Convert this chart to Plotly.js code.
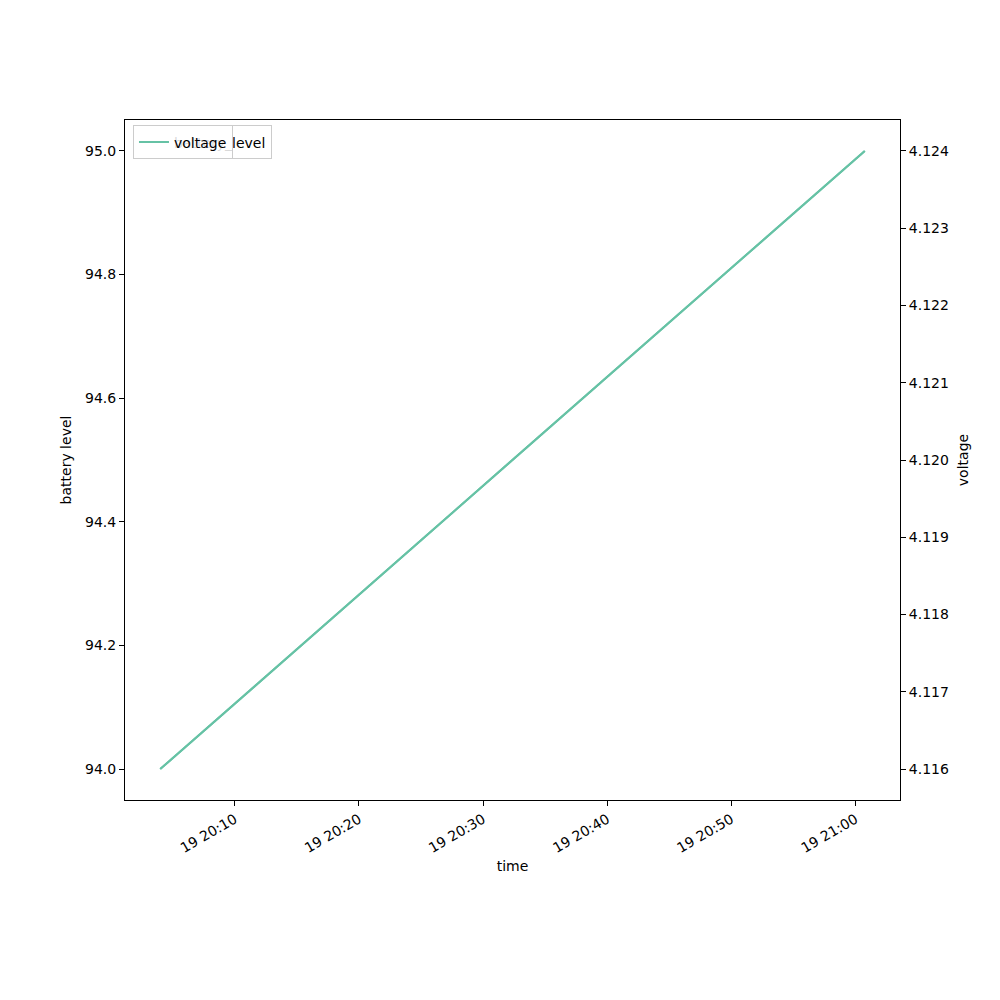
<!DOCTYPE html>
<html>
<head>
<meta charset="utf-8">
<script src="https://cdn.plot.ly/plotly-3.0.1.min.js"></script>
<style>html,body{margin:0;padding:0;background:#fff;}</style>
</head>
<body>
<div id="chart" style="width:1000px;height:1000px;"></div>
<script>
const times = ['2023-03-19 20:04:00', '2023-03-19 21:00:45'];
const batteryLevel = [94, 95];
const voltage = [4.116, 4.124];
const batteryTicks = [94.0, 94.2, 94.4, 94.6, 94.8, 95.0];
const voltageTicks = [4.116, 4.117, 4.118, 4.119, 4.120, 4.121, 4.122, 4.123, 4.124];
const timeTicks = ['2023-03-19 20:10', '2023-03-19 20:20', '2023-03-19 20:30', '2023-03-19 20:40', '2023-03-19 20:50', '2023-03-19 21:00'];
const timeTickLabels = ['19 20:10', '19 20:20', '19 20:30', '19 20:40', '19 20:50', '19 21:00'];

const lineColor = '#66c2a5';
const font = {family: 'DejaVu Sans, sans-serif', size: 14, color: '#000'};

const traces = [
  {x: times, y: batteryLevel, name: 'battery_level', type: 'scatter', mode: 'lines',
   line: {color: lineColor, width: 2}, yaxis: 'y', legend: 'legend'},
  {x: times, y: voltage, name: 'voltage', type: 'scatter', mode: 'lines',
   line: {color: lineColor, width: 2}, yaxis: 'y2', legend: 'legend2'}
];

function padRange(a, b) { const d = (b - a) * 0.05; return [a - d, b + d]; }
const t0 = new Date(times[0].replace(' ', 'T') + 'Z').getTime();
const t1 = new Date(times[1].replace(' ', 'T') + 'Z').getTime();
const tr = padRange(t0, t1).map(v => new Date(v).toISOString().replace('T', ' ').replace('Z', ''));

const layout = {
  width: 1000, height: 1000,
  margin: {l: 125, r: 100, t: 120, b: 200},
  paper_bgcolor: '#fff', plot_bgcolor: '#fff',
  font: font,
  showlegend: true,
  xaxis: {
    type: 'date', range: tr,
    tickvals: timeTicks, ticktext: timeTickLabels, tickangle: -30,
    ticks: 'outside', ticklen: 5, tickwidth: 1, tickcolor: '#000',
    showline: true, linecolor: '#000', linewidth: 1, mirror: true,
    showgrid: false, zeroline: false,
    title: {text: 'time', font: font, standoff: 6},
    tickfont: font
  },
  yaxis: {
    range: padRange(94, 95), tickvals: batteryTicks, ticktext: batteryTicks.map(v => v.toFixed(1)),
    ticks: 'outside', ticklen: 5, tickwidth: 1, tickcolor: '#000',
    showline: true, linecolor: '#000', linewidth: 1,
    showgrid: false, zeroline: false,
    title: {text: 'battery level', font: font, standoff: 10},
    tickfont: font
  },
  yaxis2: {
    overlaying: 'y', side: 'right',
    range: padRange(4.116, 4.124), tickvals: voltageTicks, ticktext: voltageTicks.map(v => v.toFixed(3)),
    ticks: 'outside', ticklen: 5, tickwidth: 1, tickcolor: '#000',
    showline: true, linecolor: '#000', linewidth: 1,
    showgrid: false, zeroline: false,
    title: {text: 'voltage', font: font, standoff: 10},
    tickfont: font
  },
  legend: {
    x: 0.0103, y: 0.992, xanchor: 'left', yanchor: 'top',
    bgcolor: 'rgba(255,255,255,0.85)', bordercolor: '#cccccc', borderwidth: 1,
    font: font, itemwidth: 30
  },
  legend2: {
    x: 0.0103, y: 0.992, xanchor: 'left', yanchor: 'top',
    bgcolor: 'rgba(255,255,255,0.85)', bordercolor: '#cccccc', borderwidth: 1,
    font: font, itemwidth: 30
  }
};

Plotly.newPlot('chart', traces, layout, {displayModeBar: false, staticPlot: true});
</script>
</body>
</html>
